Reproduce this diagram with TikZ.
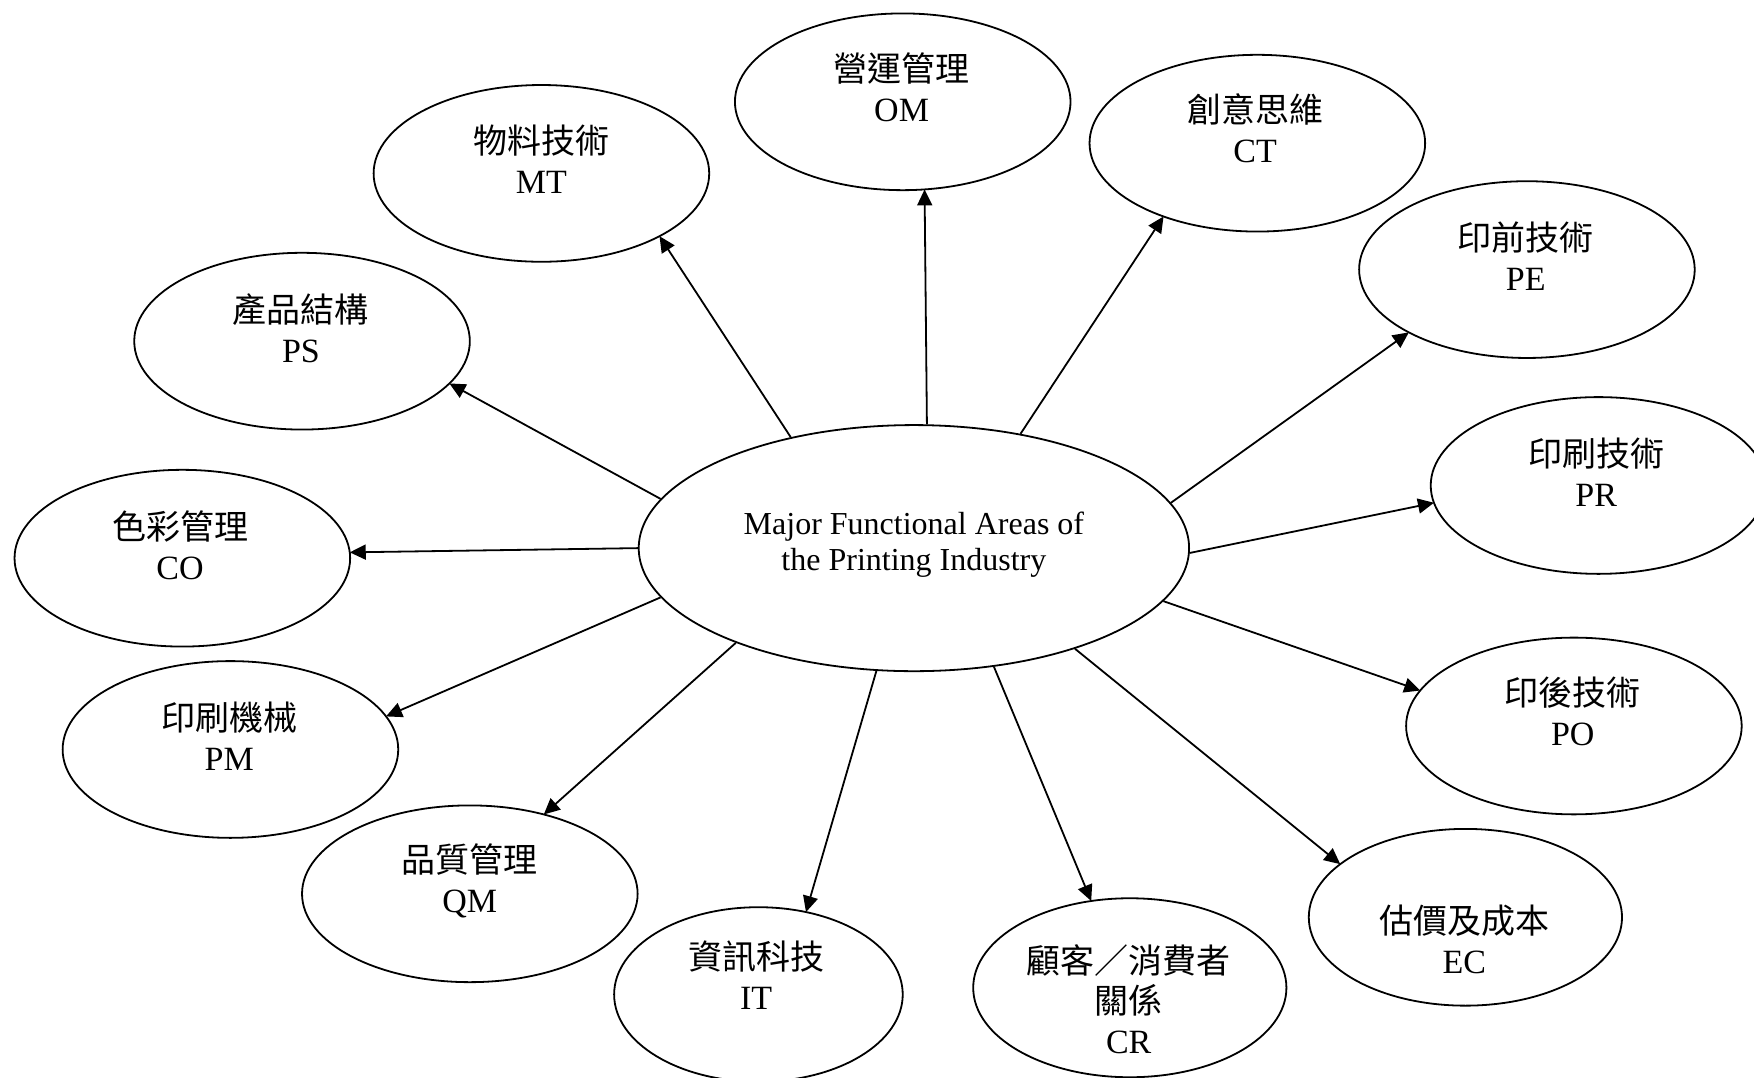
\documentclass[tikz,border=0pt]{standalone}
\usepackage{fontspec}
\setmainfont{Liberation Serif}
\newfontfamily\cjk{Noto Sans CJK TC}
\usetikzlibrary{shapes.geometric,arrows.meta}
\begin{document}
\begin{tikzpicture}[x=0.5593pt,y=-0.5593pt,
  core/.style={draw,line width=0.9pt,ellipse,inner sep=0pt,minimum width=492*0.5593pt,minimum height=220*0.5593pt},
  lab/.style={align=center,inner sep=0pt,font=\fontsize{17}{20}\selectfont},
  ctext/.style={align=center,inner sep=0pt,font=\fontsize{16}{18.4}\selectfont},
  arr/.style={line width=0.9pt,-{Triangle[length=8pt,width=7.5pt]}}]
\tikzset{bub/.style={draw,line width=0.9pt,ellipse,inner sep=0pt,outer sep=0pt,minimum width=#1*0.5593pt,minimum height=158*0.5593pt},bub/.default=300}
\useasboundingbox (0,0) rectangle (1568,963);
% central
\node[core] (C) at (817,490) {};
\node[ctext] (Ct) at (817,487) {Major Functional Areas of\\the Printing Industry};
% satellites
\node[bub] (OM) at (807,91) {};
\node[lab] (OMt) at (806,78) {{\cjk 營運管理}\\OM};
\node[bub] (MT) at (484,155) {};
\node[lab] (MTt) at (484,142) {{\cjk 物料技術}\\MT};
\node[bub] (CT) at (1124,128) {};
\node[lab] (CTt) at (1122,115) {{\cjk 創意思維}\\CT};
\node[bub] (PS) at (270,305) {};
\node[lab] (PSt) at (269,293) {{\cjk 產品結構}\\PS};
\node[bub] (PE) at (1365,241) {};
\node[lab] (PEt) at (1364,229) {{\cjk 印前技術}\\PE};
\node[bub] (CO) at (163,499) {};
\node[lab] (COt) at (161,487) {{\cjk 色彩管理}\\CO};
\node[bub] (PR) at (1429,434) {};
\node[lab] (PRt) at (1427,422) {{\cjk 印刷技術}\\PR};
\node[bub] (PM) at (206,670) {};
\node[lab] (PMt) at (205,658) {{\cjk 印刷機械}\\PM};
\node[bub] (PO) at (1407,649) {};
\node[lab] (POt) at (1406,636) {{\cjk 印後技術}\\PO};
\node[bub] (QM) at (420,799) {};
\node[lab] (QMt) at (420,787) {{\cjk 品質管理}\\QM};
\node[bub=258,minimum height=156*0.5593pt] (IT) at (678,889) {};
\node[lab] (ITt) at (676,872) {{\cjk 資訊科技}\\IT};
\node[bub=280,minimum height=160*0.5593pt] (CR) at (1010,883) {};
\node[lab] (CRt) at (1009,893) {{\cjk 顧客／消費者}\\{\cjk 關係}\\CR};
\node[bub=280] (EC) at (1310,820) {};
\node[lab] (ECt) at (1309,840) {{\cjk 估價及成本}\\EC};
% connectors
\draw[arr] (C.138.1) -- (MT.332);
\draw[arr] (C.84.1) -- (OM.284.9);
\draw[arr] (C.47.5) -- (CT.218);
\draw[arr] (C.10.3) -- (PE.208.4);
\draw[arr] (C.359.5) -- (PR.186);
\draw[arr] (C.348.5) -- (PO.167.3);
\draw[arr] (C.328) -- (EC.157.4);
\draw[arr] (C.304.6) -- (CR.114.3);
\draw[arr] (C.253.8) -- (IT.60.5);
\draw[arr] (C.208.7) -- (QM.47.5);
\draw[arr] (C.191.6) -- (PM.12.1);
\draw[arr] (C.180.5) -- (CO.2.7);
\draw[arr] (C.169.7) -- (PS.344.1);
\end{tikzpicture}
\end{document}
